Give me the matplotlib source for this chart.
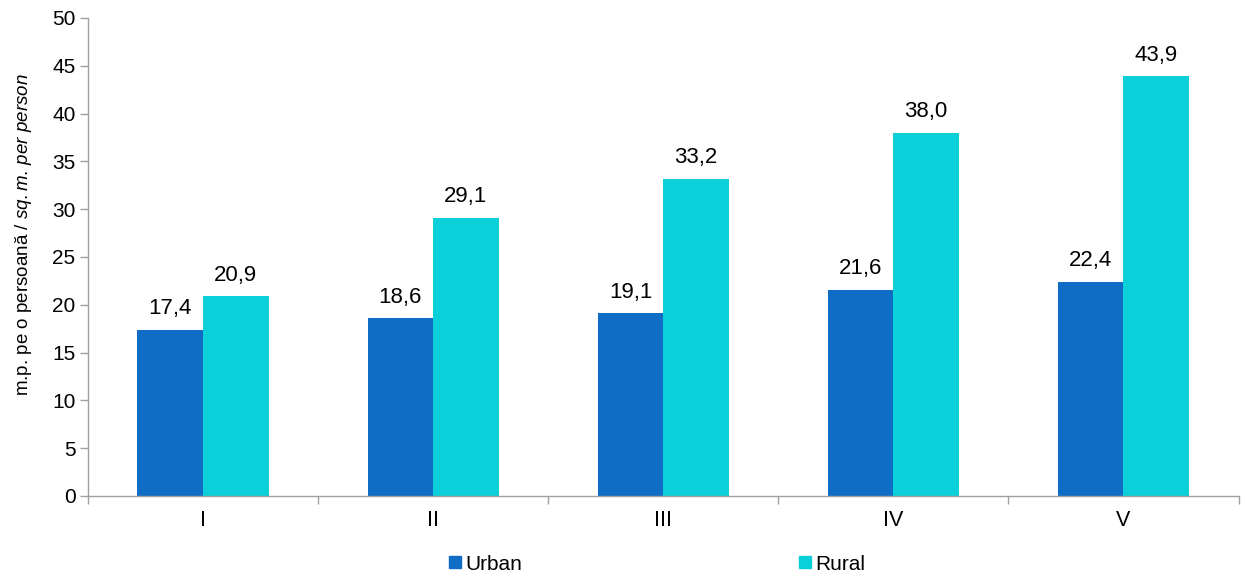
import numpy as np
import matplotlib.pyplot as plt
from matplotlib.lines import Line2D

categories = ['I', 'II', 'III', 'IV', 'V']
urban = [17.4, 18.6, 19.1, 21.6, 22.4]
rural = [20.9, 29.1, 33.2, 38.0, 43.9]

c_urban = '#0F6DC5'
c_rural = '#0BD0D9'
grey = '#A0A0A0'

plt.rcParams['font.family'] = ['Liberation Sans', 'DejaVu Sans']
plt.rcParams['mathtext.fontset'] = 'custom'
plt.rcParams['mathtext.rm'] = 'Liberation Sans'
plt.rcParams['mathtext.it'] = 'Liberation Sans:italic'

fig = plt.figure(figsize=(12.41, 5.75), dpi=100)
ax = fig.add_axes([0.0709, 0.1374, 0.9271, 0.8313])

x = np.arange(len(categories))
w = 0.285
b1 = ax.bar(x - w / 2, urban, w, color=c_urban)
b2 = ax.bar(x + w / 2, rural, w, color=c_rural)

for bars, vals in ((b1, urban), (b2, rural)):
    for r, v in zip(bars, vals):
        ax.annotate(f'{v:.1f}'.replace('.', ','), (r.get_x() + r.get_width() / 2, v),
                    xytext=(0, 7.5), textcoords='offset points',
                    ha='center', va='bottom', fontsize=16)

ax.set_xlim(-0.5, len(categories) - 0.5)
ax.set_ylim(0, 50)
ax.set_yticks(range(0, 51, 5))
ax.set_xticks(x)
ax.set_xticklabels(categories)
ax.set_xticks(np.arange(-0.5, len(categories)), minor=True)
ax.tick_params(axis='x', which='major', length=0, pad=10, labelsize=15.5)
ax.tick_params(axis='x', which='minor', length=6, color=grey, width=1)
ax.tick_params(axis='y', length=6, color=grey, width=1, labelsize=15, pad=3)

for s in ('top', 'right'):
    ax.spines[s].set_visible(False)
for s in ('left', 'bottom'):
    ax.spines[s].set_color(grey)
    ax.spines[s].set_linewidth(1)

ax.set_ylabel('m.p. pe o persoană / $\\it{sq.m.\\,per\\ person}$', fontsize=13.5)
ax.yaxis.set_label_coords(-0.047, 0.546)

handles = [Line2D([], [], marker='s', ls='none', color=c_urban, markersize=8.6),
           Line2D([], [], marker='s', ls='none', color=c_rural, markersize=8.6)]
fig.legend(handles, ['Urban', 'Rural'], loc='center', bbox_to_anchor=(0.5277, 0.019),
           ncol=2, frameon=False, handletextpad=0.0, columnspacing=13.1,
           fontsize=15, handlelength=1.0, borderpad=0, borderaxespad=0)

fig.savefig('out.png', dpi=100)
